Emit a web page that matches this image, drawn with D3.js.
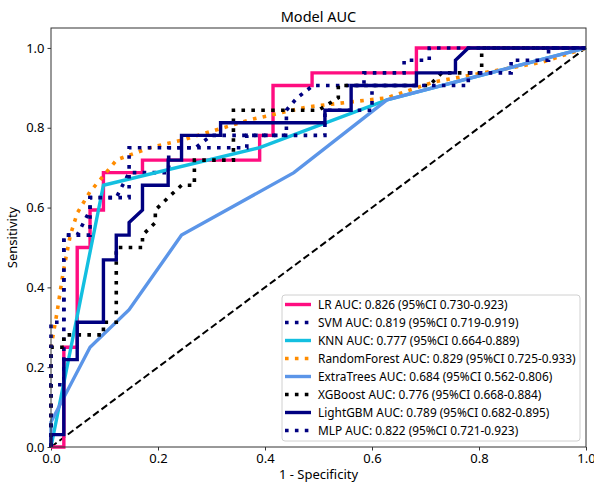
<!DOCTYPE html>
<html>
<head>
<meta charset="utf-8">
<script src="https://cdn.jsdelivr.net/npm/d3@7"></script>
<style>
  body { margin: 0; background: #fff; }
  text { font-family: "Noto Sans", "DejaVu Sans", sans-serif; fill: #000; }
</style>
</head>
<body>
<svg id="chartSVG" width="594" height="484"></svg>
<script>
/* ---------- Data ---------- */
const modelNames = ["LR", "SVM", "KNN", "RandomForest", "ExtraTrees", "XGBoost", "LightGBM", "MLP"];
const aucText = [
    "0.826 (95%CI 0.730-0.923)",
    "0.819 (95%CI 0.719-0.919)",
    "0.777 (95%CI 0.664-0.889)",
    "0.829 (95%CI 0.725-0.933)",
    "0.684 (95%CI 0.562-0.806)",
    "0.776 (95%CI 0.668-0.884)",
    "0.789 (95%CI 0.682-0.895)",
    "0.822 (95%CI 0.721-0.923)"
];

const lrFpr = [0, 0.024, 0.024, 0.049, 0.049, 0.073, 0.073, 0.098, 0.098, 0.171, 0.171, 0.390, 0.390, 0.415, 0.415, 0.488, 0.488, 0.683, 0.683, 1];
const lrTpr = [0, 0, 0.25, 0.25, 0.5, 0.5, 0.594, 0.594, 0.6875, 0.6875, 0.719, 0.719, 0.781, 0.781, 0.906, 0.906, 0.9375, 0.9375, 1, 1];

const svmFpr = [0, 0, 0.024, 0.024, 0.049, 0.073, 0.073, 0.122, 0.146, 0.220, 0.220, 0.270, 0.300, 0.440, 0.440, 0.460, 0.490, 0.585, 0.585, 0.660, 0.660, 0.707, 0.707, 1];
const svmTpr = [0, 0.156, 0.156, 0.531, 0.531, 0.594, 0.625, 0.625, 0.6875, 0.6875, 0.75, 0.75, 0.781, 0.781, 0.844, 0.875, 0.906, 0.906, 0.9375, 0.9375, 0.969, 0.969, 1, 1];

const knnFpr = [0, 0.098, 0.390, 0.628, 1];
const knnTpr = [0, 0.656, 0.75, 0.87, 1];

const rfFpr = [0, 0, 0.011, 0.023, 0.036, 0.049, 0.073, 0.092, 0.123, 0.185, 0.247, 0.372, 0.478, 0.628, 0.716, 0.920, 1];
const rfTpr = [0, 0.25, 0.335, 0.44, 0.53, 0.586, 0.64, 0.67, 0.72, 0.75, 0.77, 0.82, 0.852, 0.875, 0.915, 0.965, 1];

const etFpr = [0, 0, 0.073, 0.146, 0.244, 0.454, 0.628, 1];
const etTpr = [0, 0.0625, 0.25, 0.344, 0.531, 0.6875, 0.87, 1];

const xgbFpr = [0, 0, 0.024, 0.024, 0.098, 0.098, 0.122, 0.122, 0.171, 0.171, 0.195, 0.195, 0.219, 0.244, 0.268, 0.268, 0.341, 0.341, 0.500, 0.537, 0.537, 0.707, 0.730, 0.805, 0.805, 1];
const xgbTpr = [0, 0.25, 0.25, 0.281, 0.281, 0.3125, 0.3125, 0.5, 0.5, 0.531, 0.5625, 0.594, 0.625, 0.656, 0.656, 0.719, 0.719, 0.844, 0.844, 0.875, 0.906, 0.906, 0.9375, 0.9375, 1, 1];

const lgbFpr = [0, 0, 0.024, 0.024, 0.049, 0.049, 0.098, 0.098, 0.122, 0.122, 0.146, 0.146, 0.171, 0.171, 0.219, 0.219, 0.244, 0.244, 0.317, 0.317, 0.512, 0.512, 0.561, 0.561, 0.683, 0.683, 0.756, 0.756, 0.780, 1];
const lgbTpr = [0, 0.031, 0.031, 0.219, 0.219, 0.3125, 0.3125, 0.469, 0.469, 0.531, 0.531, 0.5625, 0.594, 0.656, 0.656, 0.719, 0.719, 0.781, 0.781, 0.8125, 0.8125, 0.844, 0.844, 0.906, 0.906, 0.9375, 0.9375, 0.969, 1, 1];

const mlpFpr = [0, 0, 0.024, 0.024, 0.073, 0.073, 0.146, 0.146, 0.366, 0.366, 0.512, 0.512, 0.600, 0.600, 0.780, 0.780, 0.860, 0.860, 0.930, 0.930, 1];
const mlpTpr = [0, 0.3125, 0.3125, 0.531, 0.531, 0.625, 0.625, 0.75, 0.75, 0.781, 0.781, 0.844, 0.844, 0.906, 0.906, 0.9375, 0.9375, 0.969, 0.969, 1, 1];

const allFpr = [lrFpr, svmFpr, knnFpr, rfFpr, etFpr, xgbFpr, lgbFpr, mlpFpr];
const allTpr = [lrTpr, svmTpr, knnTpr, rfTpr, etTpr, xgbTpr, lgbTpr, mlpTpr];

const xTicks = [0, 0.2, 0.4, 0.6, 0.8, 1.0];
const yTicks = [0, 0.2, 0.4, 0.6, 0.8, 1.0];

/* ---------- Styles ---------- */
const lineColours = ["#ff0d80", "#000080", "#13bfe0", "#ff8c00", "#5b95e8", "#000000", "#000080", "#000080"];
const dotted = [false, true, false, true, false, true, false, true];

const margin = {left: 51, right: 8, top: 28, bottom: 37};
const width = 594 - margin.left - margin.right;
const height = 484 - margin.top - margin.bottom;

var svg = d3.select("#chartSVG");
var g = svg.append("g").attr("transform", "translate(" + margin.left + "," + margin.top + ")");

/* ---------- Scales and Axis ---------- */
var xScale = d3.scaleLinear().domain([0, 1]).range([0, width]);
var yScale = d3.scaleLinear().domain([0, 1.05]).range([height, 0]);

var xAxis = d3.axisBottom(xScale).tickValues(xTicks).tickFormat(d3.format(".1f")).tickSize(3.5).tickPadding(3);
var yAxis = d3.axisLeft(yScale).tickValues(yTicks).tickFormat(d3.format(".1f")).tickSize(3.5).tickPadding(3);

var gx = g.append("g").attr("transform", "translate(0," + height + ")").call(xAxis);
var gy = g.append("g").call(yAxis);
[gx, gy].forEach(a => {
    a.select(".domain").remove();
    a.selectAll("line").attr("stroke", "#333");
    a.selectAll("text").style("font-size", "13px").style("font-family", "\"Noto Sans\", sans-serif");
});

var line = d3.line().x(d => xScale(d[0])).y(d => yScale(d[1]));

/* ---------- Chance diagonal ---------- */
g.append("path")
    .datum([[0, 0], [1, 1]])
    .attr("d", line)
    .attr("fill", "none")
    .attr("stroke", "#000")
    .attr("stroke-width", 2)
    .attr("stroke-dasharray", "7,3.5");

/* ---------- ROC curves ---------- */
for (let i = 0; i < modelNames.length; i++) {
    var pts = allFpr[i].map((f, k) => [f, allTpr[i][k]]);
    g.append("path")
        .datum(pts)
        .attr("d", line)
        .attr("fill", "none")
        .attr("stroke", lineColours[i])
        .attr("stroke-width", dotted[i] ? 3.6 : 3.4)
        .attr("stroke-dasharray", dotted[i] ? "3.6,6.3" : null)
        .attr("stroke-linejoin", "miter");
}

/* ---------- Frame ---------- */
g.append("rect")
    .attr("width", width).attr("height", height)
    .attr("fill", "none").attr("stroke", "#333").attr("stroke-width", 1);

/* ---------- Titles ---------- */
svg.append("text")
    .text("Model AUC")
    .attr("x", margin.left + width / 2).attr("y", 22)
    .attr("text-anchor", "middle").style("font-size", "14.5px");
svg.append("text")
    .text("1 - Specificity")
    .attr("x", margin.left + width / 2).attr("y", 479)
    .attr("text-anchor", "middle").style("font-size", "13px");
svg.append("text")
    .text("Sensitivity")
    .attr("text-anchor", "middle")
    .attr("transform", "translate(17," + (margin.top + height / 2) + ") rotate(-90)")
    .style("font-size", "13px");

/* ---------- Legend ---------- */
var legend = svg.append("g").attr("transform", "translate(282,295)");
legend.append("rect")
    .attr("width", 298).attr("height", 146).attr("rx", 3)
    .attr("fill", "#fff").attr("fill-opacity", 0.85)
    .attr("stroke", "#d0d0d0");
var rowGap = 18.0;
var labels = [];
modelNames.forEach((name, i) => {
    var cy = 9.5 + i * rowGap;
    legend.append("line")
        .attr("x1", 3).attr("x2", 29).attr("y1", cy).attr("y2", cy)
        .attr("stroke", lineColours[i])
        .attr("stroke-width", dotted[i] ? 3.6 : 3.4)
        .attr("stroke-dasharray", dotted[i] ? "3.6,6.3" : null);
    labels.push(legend.append("text")
        .text(name + " AUC: " + aucText[i])
        .attr("x", 36).attr("y", cy + 4.5)
        .style("font-size", "12.5px"));
});
// the widest row (RandomForest) spans ~258px in the reference
var widest = labels[3].node().getComputedTextLength();
var fs = 12.5 * 258 / widest;
labels.forEach(t => t.style("font-size", fs + "px"));
</script>
</body>
</html>
